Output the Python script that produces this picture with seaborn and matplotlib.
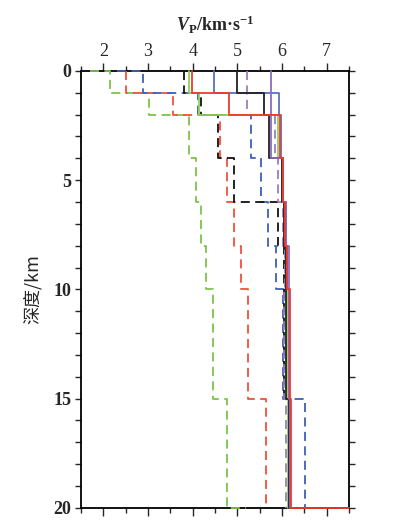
import numpy as np
import pandas as pd
import seaborn as sns
import matplotlib.pyplot as plt
from matplotlib.ticker import MultipleLocator

# layer boundaries (km)
layer_top = [0, 1, 2, 4, 6, 8, 10, 15]
layer_bot = [1, 2, 4, 6, 8, 10, 15, 20]

# Vp per layer (km/s) for each model
green_dash = [2.16, 3.02, 3.91, 4.07, 4.19, 4.31, 4.45, 4.78]
red_dash = [2.50, 3.56, 4.61, 4.76, 4.93, 5.08, 5.23, 5.64]
blue_dash = [2.89, 4.11, 5.31, 5.52, 5.69, 5.87, 6.03, 6.51]
black_dash = [3.81, 4.18, 4.56, 4.93, 5.92, 6.04, 6.04, 6.16]
purple_dash = [5.21, 5.21, 5.85, 5.90, 6.02, 6.07, 6.05, 6.10]
green_solid = [3.92, 4.14, 5.90, 6.00, 6.06, 6.10, 6.12, 6.14]
blue_solid = [4.48, 5.94, 5.98, 6.02, 6.08, 6.12, 6.15, 6.18]
black_solid = [4.99, 5.60, 5.72, 6.00, 6.05, 6.08, 6.10, 6.15]
purple_solid = [5.75, 5.75, 5.75, 6.02, 6.08, 6.16, 6.16, 6.18]
red_solid = [3.98, 4.82, 5.96, 6.03, 6.07, 6.12, 6.18, 6.20]

# (name, values, colour, dashed, start Vp at 0 km, end Vp at 20 km)
models = [
    ("green_dash", green_dash, "#7cc44a", True, 1.70, 5.20),
    ("red_dash", red_dash, "#f0503c", True, None, None),
    ("blue_dash", blue_dash, "#3d5fb8", True, 2.30, None),
    ("black_dash", black_dash, "#111111", True, None, None),
    ("purple_dash", purple_dash, "#9a7cc6", True, None, None),
    ("green_solid", green_solid, "#8fd060", False, None, None),
    ("blue_solid", blue_solid, "#5a6fc4", False, None, None),
    ("black_solid", black_solid, "#222222", False, None, None),
    ("purple_solid", purple_solid, "#8c6cc0", False, None, None),
    ("red_solid", red_solid, "#ee3b2a", False, None, 7.5),
]

xticks = [2, 3, 4, 5, 6, 7]
yticks = [0, 5, 10, 15, 20]

sns.set_style("white")
plt.rcParams['font.family'] = ['Liberation Serif', 'DejaVu Serif']
plt.rcParams['mathtext.fontset'] = 'custom'
plt.rcParams['mathtext.it'] = 'Liberation Serif:italic:bold'
plt.rcParams['mathtext.rm'] = 'Liberation Serif:bold'
plt.rcParams['mathtext.bf'] = 'Liberation Serif:bold'

fig = plt.figure(figsize=(3.93, 5.29), dpi=100)
ax = fig.add_axes([0.206, 0.040, 0.682, 0.826])

for name, vals, col, dashed, v0, v1 in models:
    xs, ys = [], []
    if v0 is not None:
        xs.append(v0); ys.append(0)
    for v, t, b in zip(vals, layer_top, layer_bot):
        xs += [v, v]
        ys += [t, b]
    if v1 is not None:
        xs.append(v1); ys.append(20)
    df = pd.DataFrame({"v": xs, "depth": ys})
    sns.lineplot(data=df, x="v", y="depth", sort=False, estimator=None,
                 color=col, lw=1.3, ax=ax,
                 linestyle="--" if dashed else "-")
    ln = ax.lines[-1]
    ln.set_clip_on(False)
    ln.set_zorder(3)
    if dashed:
        ln.set_dashes((5, 3))

ax.set_xlim(1.5, 7.5)
ax.set_ylim(20, 0)
ax.xaxis.tick_top()
ax.xaxis.set_label_position("top")
ax.set_xticks(xticks)
ax.set_yticks(yticks)
ax.xaxis.set_minor_locator(MultipleLocator(0.5))
ax.yaxis.set_minor_locator(MultipleLocator(1))
ax.tick_params(axis="x", which="both", top=True, bottom=True, direction="out",
               labelsize=13, pad=2)
ax.tick_params(axis="x", which="major", length=6, width=1)
ax.tick_params(axis="x", which="minor", length=3.5, width=1)
ax.tick_params(axis="y", which="both", left=True, right=True, direction="out",
               length=4, width=1, labelsize=13, pad=3)
for lab in ax.get_yticklabels():
    lab.set_fontweight("bold")

for s in ax.spines.values():
    s.set_color("black")
    s.set_linewidth(1.3)

ax.set_xlabel(r"$V_{\rm P}$/km·s$^{-1}$", fontsize=13,
              fontweight="bold", labelpad=8)
ax.set_ylabel("深度/km", family=["Noto Sans CJK SC", "DejaVu Sans"],
              fontsize=13, labelpad=8)

fig.savefig("out.png", dpi=100)
